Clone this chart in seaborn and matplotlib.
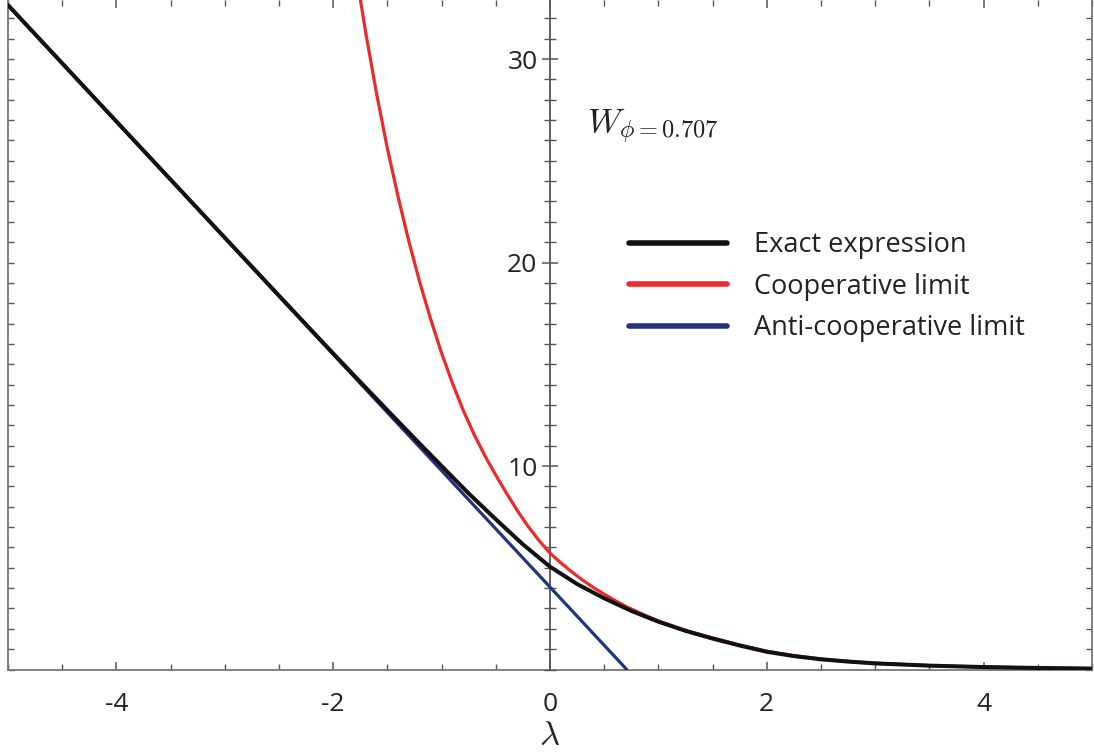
import matplotlib
matplotlib.use("Agg")
import matplotlib.pyplot as plt
import seaborn as sns
import numpy as np
import pandas as pd
from matplotlib.ticker import MultipleLocator, FixedLocator

# ---- data ----
lam_exact = [-5.0, -4.0, -3.0, -2.5, -2.0, -1.75, -1.5, -1.25, -1.0, -0.75, -0.5, -0.25, 0.0,
             0.25, 0.5, 0.75, 1.0, 1.25, 1.5, 1.75, 2.0, 2.25, 2.5, 2.75, 3.0, 3.5, 4.0, 4.5, 5.0]
w_exact = [32.65, 26.93, 21.22, 18.37, 15.53, 14.13, 12.74, 11.36, 10.0, 8.65, 7.38, 6.15, 5.05,
           4.2, 3.5, 2.88, 2.35, 1.9, 1.52, 1.18, 0.87, 0.66, 0.5, 0.39, 0.3, 0.19, 0.12, 0.075, 0.045]

lam_coop = [-1.8, -1.7, -1.6, -1.5, -1.4, -1.3, -1.2, -1.1, -1.0, -0.9, -0.8, -0.7, -0.6, -0.5,
            -0.4, -0.3, -0.2, -0.1, 0.0, 0.1, 0.2, 0.3, 0.4, 0.5, 0.6, 0.7, 0.8, 0.9, 1.0,
            1.25, 1.5, 1.75, 2.0, 2.25, 2.5, 2.75, 3.0, 3.5, 4.0, 4.5, 5.0]
w_coop = [34.6, 31.3, 28.3, 25.6, 23.2, 21.0, 19.0, 17.2, 15.55, 14.07, 12.73, 11.55, 10.5, 9.55,
          8.65, 7.8, 7.02, 6.33, 5.72, 5.24, 4.8, 4.4, 4.03, 3.7, 3.39, 3.1, 2.85, 2.61, 2.39,
          1.92, 1.55, 1.2, 0.9, 0.68, 0.52, 0.4, 0.31, 0.19, 0.12, 0.075, 0.046]

lam_anti = [-5.0, -2.0, 0.0, 0.708]
w_anti = [32.65, 15.49, 4.05, 0.0]

series_labels = ["Exact expression", "Cooperative limit", "Anti-cooperative limit"]
series_colors = ["#111111", "#EC2A2A", "#23347E"]
x_ticks = [-4, -2, 0, 2, 4]
y_ticks = [10, 20, 30]
annotation = r"$W_{\phi=0.707}$"

sns.set_theme(style="white")
plt.rcParams["font.family"] = ["Open Sans", "DejaVu Sans"]
plt.rcParams["axes.unicode_minus"] = False
plt.rcParams["mathtext.fontset"] = "cm"

W, H = 1094, 756
fig = plt.figure(figsize=(W / 100, H / 100), dpi=100)
rect = [8 / W, 1 - 669.5 / H, (1092 - 8) / W, 669.5 / H]
ax = fig.add_axes(rect)
ax2 = fig.add_axes(rect)

xlim = (-5, 5)
ylim = (0, 32.9)
for a in (ax, ax2):
    a.set_xlim(*xlim)
    a.set_ylim(*ylim)

# frame axes
frame_col = "#777777"
for k, s in ax.spines.items():
    s.set_visible(k != "top")
    s.set_color(frame_col)
    s.set_linewidth(1.3)
ax.xaxis.set_major_locator(FixedLocator(x_ticks))
ax.xaxis.set_minor_locator(MultipleLocator(0.5))
ax.yaxis.set_major_locator(MultipleLocator(10))
ax.yaxis.set_minor_locator(MultipleLocator(1))
ax.tick_params(axis="x", which="major", direction="in", length=6, width=1.1, color="#555555",
               top=True, bottom=True, labelsize=19, labelcolor="#222222", pad=16)
ax.tick_params(axis="x", which="minor", direction="in", length=4, width=1.0, color="#555555",
               top=True, bottom=True)
ax.tick_params(axis="y", which="both", direction="in", length=4, width=1.0, color="#555555",
               left=True, right=True, labelleft=False, labelright=False)
ax.set_xticklabels([str(t) for t in x_ticks])
ax.set_xlabel(r"$\lambda$", fontsize=25, labelpad=2)

# origin y-axis
ax2.patch.set_alpha(0)
for k, s in ax2.spines.items():
    s.set_visible(k == "left")
ax2.spines["left"].set_position(("data", 0))
ax2.spines["left"].set_color("#555555")
ax2.spines["left"].set_linewidth(1.3)
ax2.yaxis.set_major_locator(FixedLocator(y_ticks))
ax2.yaxis.set_minor_locator(MultipleLocator(1))
ax2.tick_params(axis="y", which="major", direction="inout", length=12, width=1.1, color="#555555",
                left=True, labelleft=True, labelsize=19, labelcolor="#222222", pad=3)
ax2.tick_params(axis="y", which="minor", direction="inout", length=8, width=1.0, color="#555555",
                left=True)
ax2.tick_params(axis="x", which="both", bottom=False, top=False, labelbottom=False)
ax2.set_yticklabels([str(t) for t in y_ticks])

# curves
df_exact = pd.DataFrame({"lam": lam_exact, "w": w_exact})
df_coop = pd.DataFrame({"lam": lam_coop, "w": w_coop})
df_anti = pd.DataFrame({"lam": lam_anti, "w": w_anti})
sns.lineplot(data=df_anti, x="lam", y="w", ax=ax2, color=series_colors[2], lw=2.3,
             label=series_labels[2], sort=False, zorder=3)
sns.lineplot(data=df_coop, x="lam", y="w", ax=ax2, color=series_colors[1], lw=2.3,
             label=series_labels[1], sort=False, zorder=4)
sns.lineplot(data=df_exact, x="lam", y="w", ax=ax2, color=series_colors[0], lw=2.9,
             label=series_labels[0], sort=False, zorder=5)
ax2.set_xlabel("")
ax2.set_ylabel("")
ax2.set_xlim(*xlim)
ax2.set_ylim(*ylim)

handles, labels = ax2.get_legend_handles_labels()
order = [labels.index(l) for l in series_labels]
leg = ax2.legend([handles[i] for i in order], [labels[i] for i in order],
                 loc="upper left", bbox_to_anchor=(629 / W, 1 - 231 / H),
                 bbox_transform=fig.transFigure, frameon=False, fontsize=19.5,
                 handlelength=3.6, handletextpad=1.0, labelspacing=0.5,
                 borderpad=0, borderaxespad=0)
for t in leg.get_texts():
    t.set_color("#222222")
for l in leg.get_lines():
    l.set_linewidth(4.0)

ax2.text(587 / W, 1 - 133 / H, annotation, transform=fig.transFigure, fontsize=25,
         ha="left", va="baseline", color="#222222")

fig.savefig("out.png", dpi=100)
